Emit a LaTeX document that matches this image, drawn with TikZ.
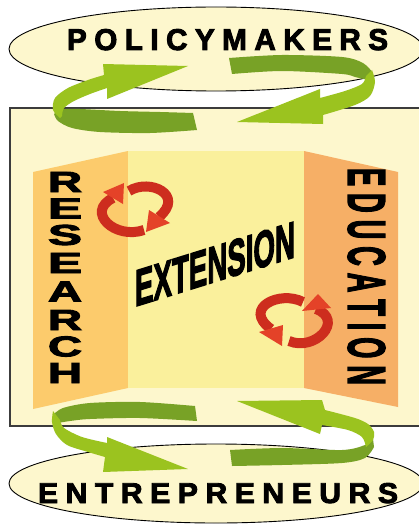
\documentclass[tikz,border=0pt]{standalone}
\usepackage{fontspec}
\usepackage{graphicx}
\usetikzlibrary{shapes.geometric}
\newfontfamily\heavy{Liberation Sans}[BoldFeatures={FakeBold=3}]
\definecolor{cream}{RGB}{253,247,205}
\definecolor{midy}{RGB}{250,240,156}
\definecolor{lpanel}{RGB}{252,203,108}
\definecolor{rpanel}{RGB}{246,175,102}
\definecolor{gl}{RGB}{155,195,31}
\definecolor{gd}{RGB}{120,162,38}
\definecolor{rd}{RGB}{205,45,30}
\definecolor{rl}{RGB}{228,66,40}
\definecolor{frame}{RGB}{60,60,60}
\newcommand\lsp{\kern0.25em}
\newcommand\vlet[1]{\resizebox{34pt}{20pt}{\heavy\bfseries #1}}
\begin{document}
\begin{tikzpicture}[x=1pt,y=-1pt,
  txt/.style={inner sep=0pt, outer sep=0pt},
  oval/.style={ellipse, draw=black, line width=0.9pt, fill=cream, inner sep=0pt},
  ribbon/.style={rd, line width=10pt},
  vl/.style={txt}]
\useasboundingbox (0,0) rectangle (419,524);
\clip (0,0) rectangle (419,524);
\fill[white] (0,0) rectangle (419,524);
% ellipses
\node[oval, minimum width=414pt, minimum height=84pt] (policy) at (216,49) {};
\node[oval, minimum width=414pt, minimum height=79pt] (entre) at (216,483.5) {};
% main frame
\draw[frame, line width=1.5pt, fill=cream] (10,108) rectangle (432,426);
% panels
\fill[lpanel] (33,172) -- (128,151) -- (128,388) -- (33,409) -- cycle;
\fill[midy] (128,151) rectangle (304,388);
\fill[rpanel] (304,151) -- (398,172) -- (398,407) -- (304,388) -- cycle;
% labels
\node[txt, anchor=base west] (poltxt) at (67,50) {\resizebox{321pt}{21pt}{\heavy\bfseries P\lsp O\lsp L\lsp I\lsp C\lsp Y\lsp M\lsp A\lsp K\lsp E\lsp R\lsp S}};
\node[txt, anchor=base west] (enttxt) at (38,503) {\resizebox{360pt}{20pt}{\heavy\bfseries E\lsp N\lsp T\lsp R\lsp E\lsp P\lsp R\lsp E\lsp N\lsp E\lsp U\lsp R\lsp S}};
\node[txt, yslant=0.31] (ext) at (215,264) {\resizebox{160pt}{36pt}{\heavy\bfseries EXTENSION}};
\node[txt, rotate=-90] (edu) at (366.5,276.5) {\resizebox{217pt}{37pt}{\heavy\bfseries E\lsp D\lsp U\lsp C\lsp A\lsp T\lsp I\lsp O\lsp N}};
\node[vl] (r1) at (65,182) {\vlet{R}};
\node[vl] (r2) at (65,208.5) {\vlet{E}};
\node[vl] (r3) at (65,235) {\vlet{S}};
\node[vl] (r4) at (65,263) {\vlet{E}};
\node[vl] (r5) at (65,291.5) {\vlet{A}};
\node[vl] (r6) at (65,320) {\vlet{R}};
\node[vl] (r7) at (65,346.5) {\vlet{C}};
\node[vl] (r8) at (65,373) {\vlet{H}};
% red cycle 1
\draw[ribbon] (129,191) .. controls (150,178) and (185,195) .. (159,217);
\fill[rl] (149,210) -- (146,232) -- (170,223) -- cycle;
\draw[ribbon] (144,230) .. controls (115,240) and (85,212) .. (113,198);
\fill[rl] (103,192) -- (124,183) -- (123,204) -- cycle;
% red cycle 2
\draw[ribbon] (303,302) .. controls (280,290) and (242,308) .. (271,329);
\fill[rl] (259,332) -- (282,346) -- (283,325) -- cycle;
\draw[ribbon] (289,341) .. controls (315,352) and (345,320) .. (316,309);
\fill[rl] (302,311) -- (318,294) -- (331,308) -- cycle;
% green arrow A (top left)
\fill[gd] plot[smooth] coordinates {(197,130) (150,133) (100,132) (72,128) (58,121) (54,114)} -- plot[smooth] coordinates {(60,109) (80,109) (120,111) (160,112) (193,113)} -- cycle;
\fill[gl] plot[smooth] coordinates {(60,118) (53,110) (55,98) (68,88) (88,80) (104,75)} -- (103,64) -- (188,66) -- (107,99) -- plot[smooth] coordinates {(107,88) (90,94) (74,101) (64,108) (62,116)} -- cycle;
% green arrow B (top right)
\fill[gd] plot[smooth] coordinates {(229,58) (282,55) (342,57) (363,63) (373,73)} -- plot[smooth] coordinates {(368,80) (355,77) (342,74) (282,71) (232,74)} -- cycle;
\fill[gl] plot[smooth] coordinates {(372,70) (375,82) (370,96) (355,105) (323,115)} -- (323,124) -- (237,122) -- (320,89) -- plot[smooth] coordinates {(320,98) (345,91) (362,84) (366,76)} -- cycle;
% green arrow C (bottom left)
\fill[gd] plot[smooth] coordinates {(195,406) (140,402) (90,403) (63,408) (53,415)} -- plot[smooth] coordinates {(58,423) (70,421) (90,419) (140,418) (197,421)} -- cycle;
\fill[gl] plot[smooth] coordinates {(53,411) (52,422) (56,434) (67,445) (88,452) (105,457)} -- (103,472) -- (188,469) -- (107,437) -- plot[smooth] coordinates {(107,443) (82,437) (64,428) (60,420)} -- cycle;
% green arrow D (bottom right)
\fill[gd] plot[smooth] coordinates {(230,450) (282,448) (342,450) (365,445) (373,439)} -- plot[smooth] coordinates {(374,447) (365,458) (342,463) (282,465) (232,466)} -- cycle;
\fill[gl] plot[smooth] coordinates {(366,447) (373,440) (374,432) (368,424) (355,418) (325,410)} -- (322,400) -- (237,401) -- (320,434) -- plot[smooth] coordinates {(322,425) (348,430) (362,437) (366,447)} -- cycle;
\end{tikzpicture}
\end{document}
